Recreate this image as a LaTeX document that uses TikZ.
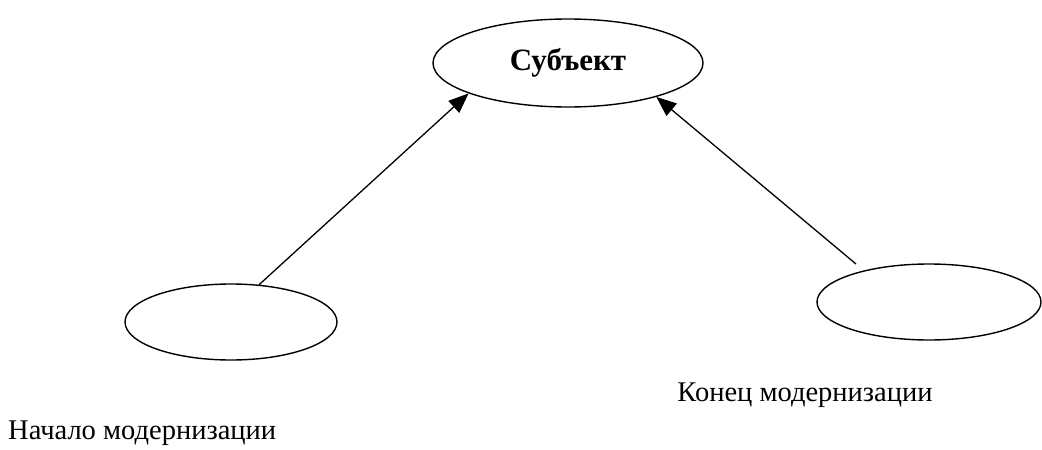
\documentclass[tikz,border=0pt]{standalone}
\usepackage{fontspec}
\setmainfont{Liberation Serif}
\usetikzlibrary{shapes.geometric,arrows.meta}
\begin{document}
\begin{tikzpicture}[x=1pt,y=-1pt,
  oval/.style={draw,ellipse,line width=1.4pt,inner sep=0pt},
  conn/.style={line width=1.3pt,-{Triangle[length=20pt,width=16pt]}},
  lbl/.style={font=\fontsize{28.5}{32}\selectfont,inner sep=0pt}]
\useasboundingbox (0,0) rectangle (1042,450);
\node[oval,minimum width=270pt,minimum height=88pt] (subj) at (568,63) {};
\node[font=\bfseries\fontsize{31}{34}\selectfont,inner sep=0pt] (subjtxt) at (subj.center) {Субъект};
\node[oval,minimum width=212pt,minimum height=76pt] (start) at (231,322) {};
\node[oval,minimum width=224pt,minimum height=76pt] (end) at (929,302) {};
\coordinate (endtop) at (856,264);
\node[lbl,anchor=west] (tstart) at (8,433) {Начало модернизации};
\node[lbl] (tend) at (805,395) {Конец модернизации};
\draw[conn] (start.53) -- (subj.197);
\draw[conn] (endtop) -- (subj.-21);
\end{tikzpicture}
\end{document}
